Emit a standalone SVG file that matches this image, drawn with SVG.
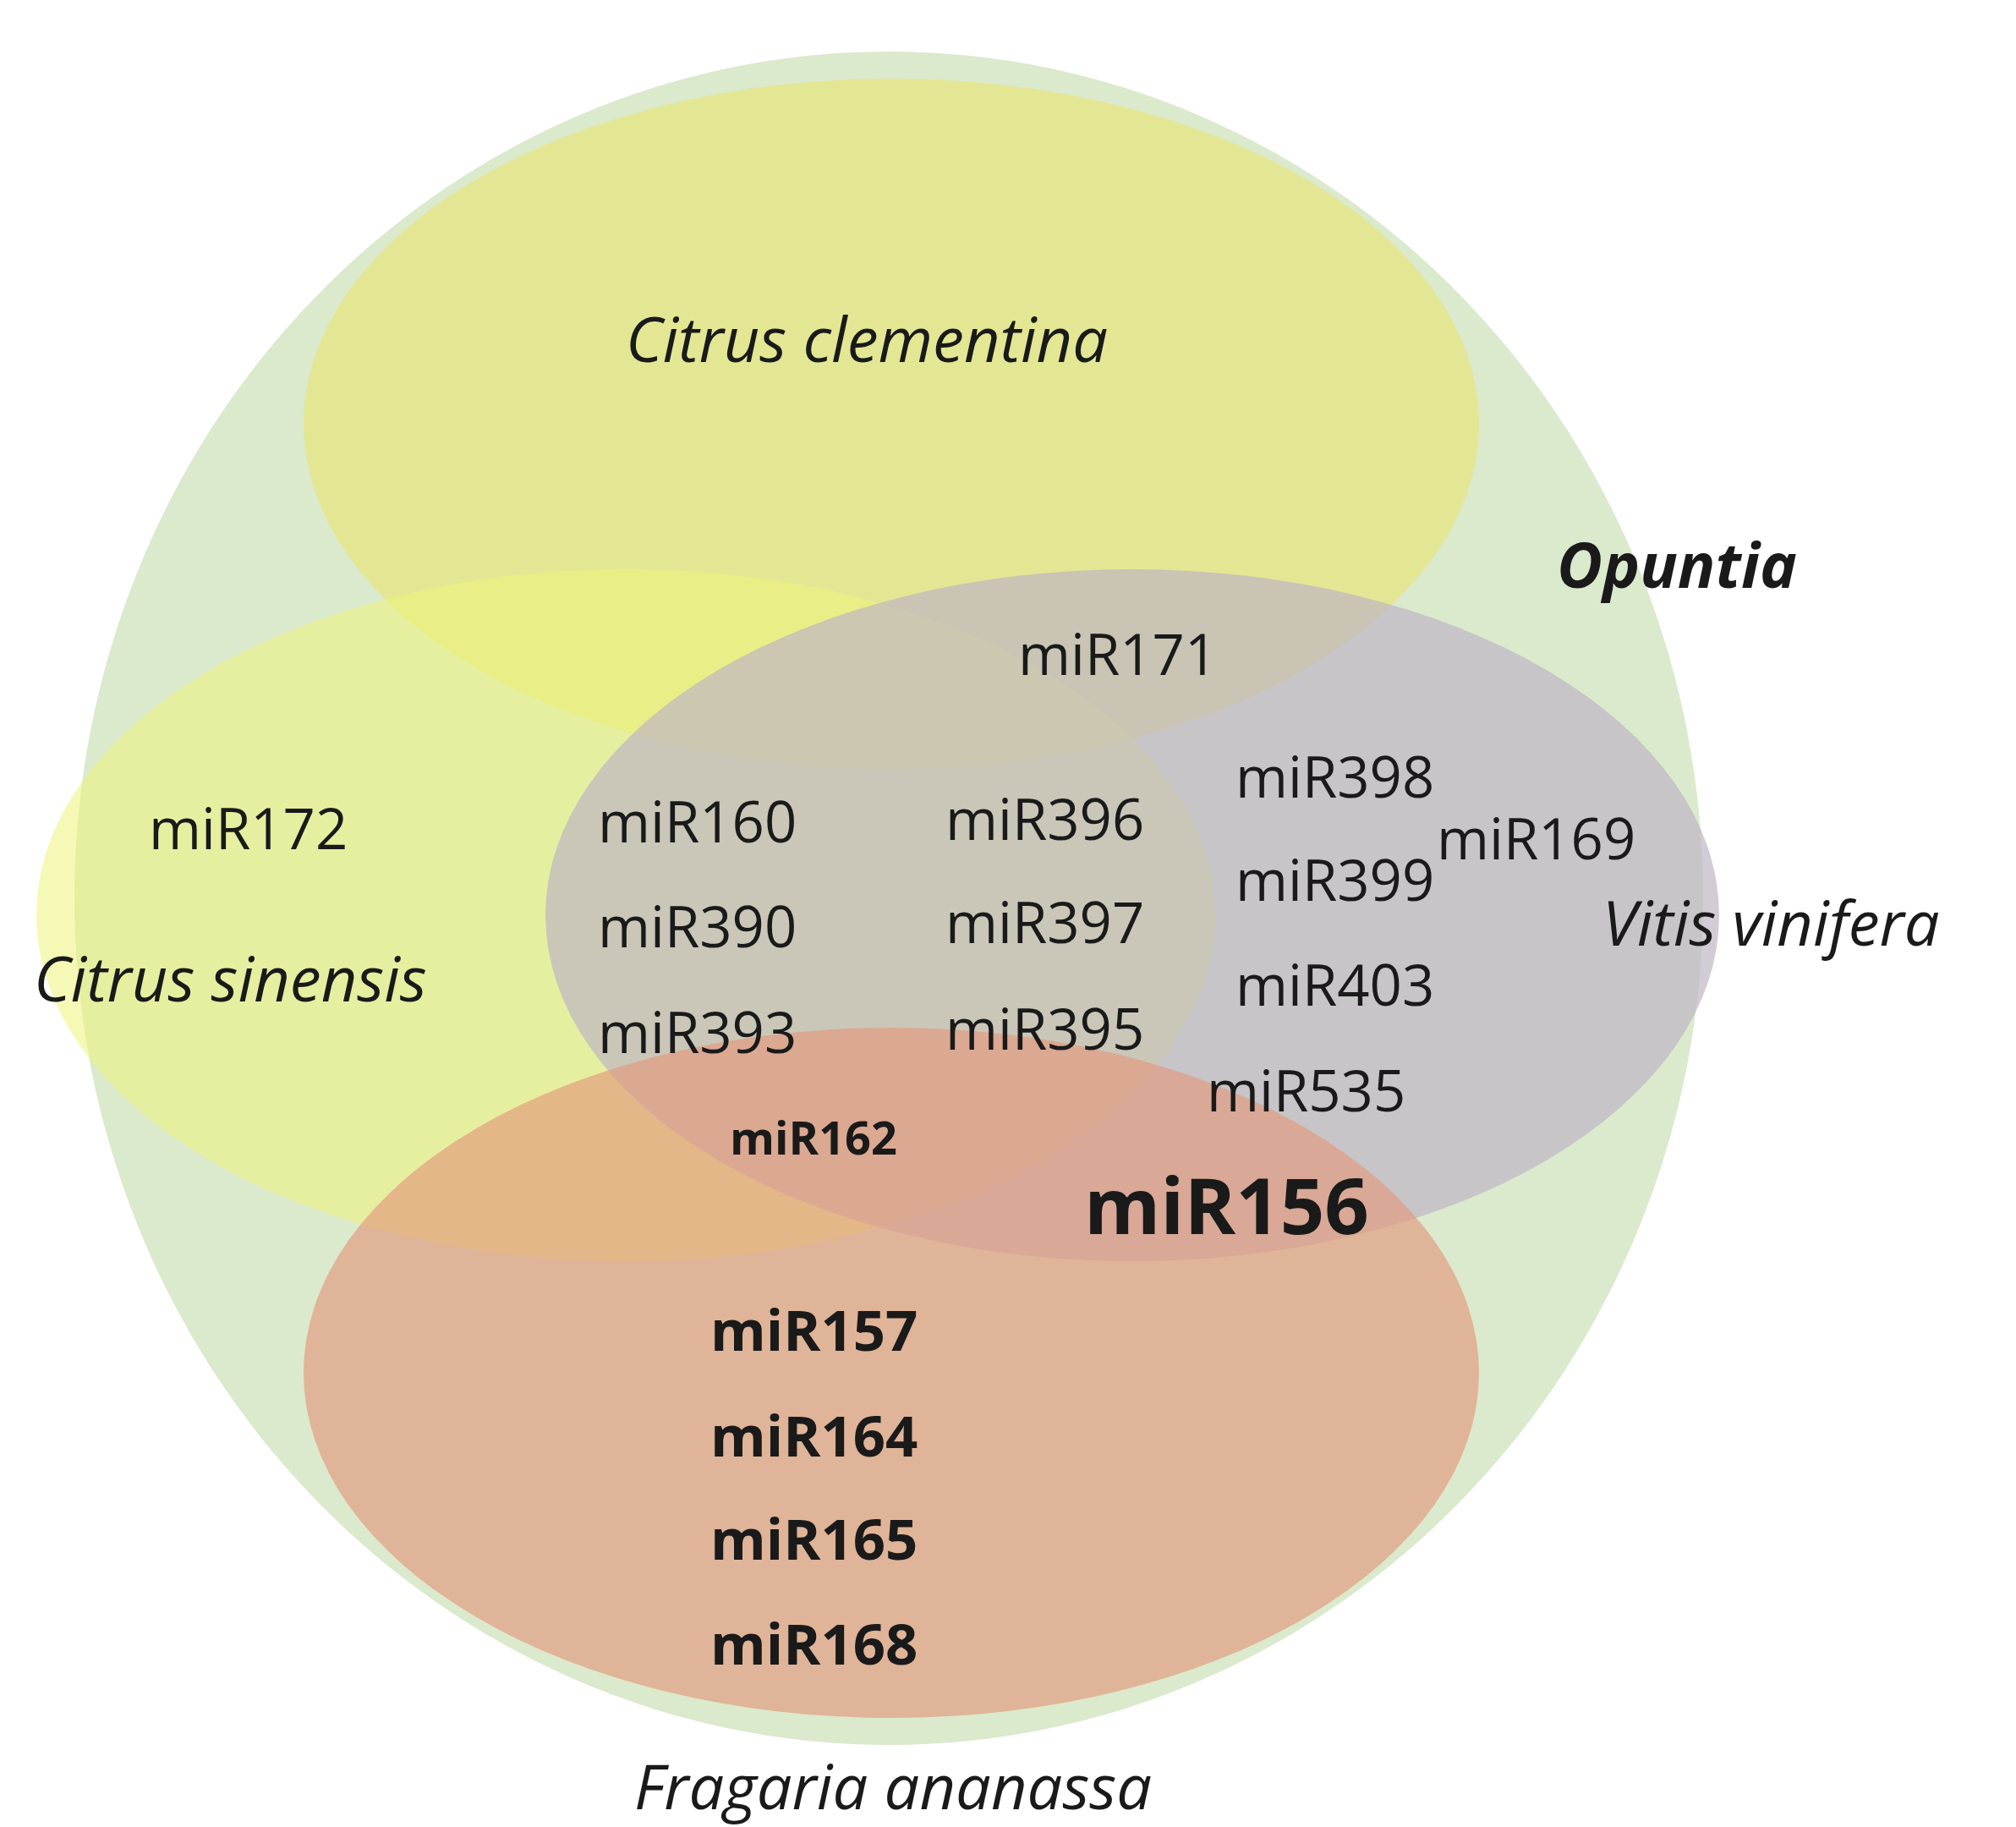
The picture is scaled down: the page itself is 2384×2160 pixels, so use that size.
<svg xmlns="http://www.w3.org/2000/svg" width="2384" height="2160" viewBox="0 0 2384 2160">
<style>
text{font-family:"Open Sans","DejaVu Sans",sans-serif;fill:#1a1a1a}
.m{font-size:67px}
.b{font-size:67px;font-weight:bold}
.sp{font-size:74px;font-style:italic}
</style>
<rect width="2384" height="2160" fill="#fff"/>
<g id="opuntia"><ellipse cx="1051" cy="1062" rx="963" ry="1001" fill="#dbe9cc"/></g>
<g id="clementina"><ellipse cx="1054" cy="501" rx="695" ry="408" fill="#e6e682" fill-opacity="0.75"/></g>
<g id="sinensis"><ellipse cx="740" cy="1082" rx="697" ry="409" fill="#eef47a" fill-opacity="0.55"/></g>
<g id="vitis"><ellipse cx="1339" cy="1082" rx="694" ry="409" fill="#bdb4c4" fill-opacity="0.68"/></g>
<g id="fragaria"><ellipse cx="1054" cy="1623" rx="695" ry="408" fill="#e4987c" fill-opacity="0.65"/></g>
<g id="labels">
<text class="sp" x="1025" y="428" text-anchor="middle">Citrus clementina</text>
<text class="sp" x="1983" y="695" text-anchor="middle" font-weight="bold">Opuntia</text>
<text class="sp" x="40" y="1184">Citrus sinensis</text>
<text class="sp" x="1895" y="1118">Vitis vinifera</text>
<text class="sp" x="1056" y="2139" text-anchor="middle">Fragaria ananassa</text>
<text class="m" x="1204" y="798">miR171</text>
<text class="m" x="176" y="1004">miR172</text>
<text class="m" x="707" y="996">miR160</text>
<text class="m" x="1118" y="993">miR396</text>
<text class="m" x="1461" y="943">miR398</text>
<text class="m" x="1699" y="1016">miR169</text>
<text class="m" x="1461" y="1065">miR399</text>
<text class="m" x="707" y="1120">miR390</text>
<text class="m" x="1118" y="1115">miR397</text>
<text class="m" x="1461" y="1189">miR403</text>
<text class="m" x="707" y="1245">miR393</text>
<text class="m" x="1118" y="1241">miR395</text>
<text class="m" x="1427" y="1314">miR535</text>
<text x="863" y="1365" font-size="54" font-weight="bold">miR162</text>
<text x="1282" y="1459" font-size="92" font-weight="bold">miR156</text>
<text class="b" x="840" y="1597">miR157</text>
<text class="b" x="840" y="1722">miR164</text>
<text class="b" x="840" y="1844">miR165</text>
<text class="b" x="840" y="1968">miR168</text>
</g>
<g id="connectors"></g>
</svg>
